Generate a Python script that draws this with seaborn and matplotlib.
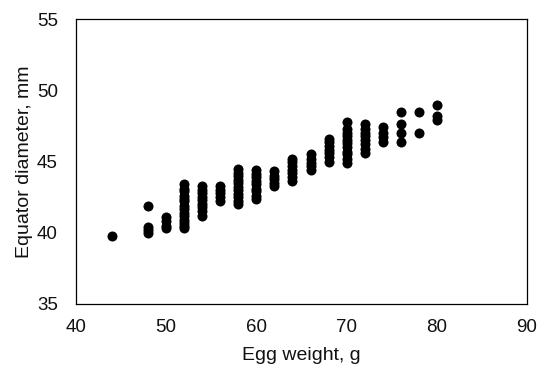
import matplotlib
matplotlib.use("Agg")
import matplotlib.pyplot as plt
import seaborn as sns
import pandas as pd

# Equator diameter (mm) measured for eggs grouped by weight (g)
egg_weight = [44, 48, 50, 52, 54, 56, 58, 60, 62, 64, 66, 68, 70, 72, 74, 76, 78, 80]
diameter = [
    [39.8],
    [41.9, 40.4, 40.2, 40.0],
    [41.1, 40.8, 40.5, 40.3],
    [43.4, 43.1, 42.9, 42.6, 42.4, 42.2, 41.9, 41.7, 41.4, 41.2, 40.9, 40.7, 40.5, 40.3],
    [43.3, 43.0, 42.8, 42.5, 42.3, 42.0, 41.8, 41.5, 41.2],
    [43.3, 43.0, 42.8, 42.5, 42.2],
    [44.5, 44.2, 44.0, 43.7, 43.5, 43.2, 43.0, 42.7, 42.5, 42.2, 42.0],
    [44.4, 44.1, 43.9, 43.6, 43.4, 43.1, 42.9, 42.6, 42.4],
    [44.3, 44.0, 43.8, 43.5, 43.3],
    [45.2, 45.0, 44.7, 44.4, 44.2, 43.9, 43.6],
    [45.5, 45.2, 44.9, 44.7, 44.4],
    [46.6, 46.4, 46.1, 45.8, 45.6, 45.3, 45.0],
    [47.8, 47.3, 47.0, 46.8, 46.5, 46.3, 46.0, 45.7, 45.5, 45.2, 44.9],
    [47.6, 47.3, 47.0, 46.8, 46.5, 46.2, 45.9, 45.6],
    [47.4, 47.0, 46.7, 46.4],
    [48.5, 47.6, 47.0, 46.4],
    [48.5, 47.0],
    [49.0, 48.2, 47.9],
]
x_ticks = [40, 50, 60, 70, 80, 90]
y_ticks = [35, 40, 45, 50, 55]

rows = [(w, d) for w, ds in zip(egg_weight, diameter) for d in ds]
df = pd.DataFrame(rows, columns=["weight", "diameter"])

sns.set_style("white")
plt.rcParams["font.family"] = ["Liberation Sans", "DejaVu Sans"]

fig = plt.figure(figsize=(5.44, 3.72), dpi=100)
ax = fig.add_axes([0.1397, 0.1828, 0.8291, 0.7661])

sns.scatterplot(data=df, x="weight", y="diameter", ax=ax, color="black",
                s=52, edgecolor="black", linewidth=0, legend=False)

ax.set_xlim(40, 90)
ax.set_ylim(35, 55)
ax.set_xticks(x_ticks)
ax.set_yticks(y_ticks)
ax.tick_params(length=0, labelsize=13.5, colors="#111111")
ax.tick_params(axis="y", pad=13)
ax.tick_params(axis="x", pad=11)
ax.set_xlabel("Egg weight, g", fontsize=14, color="#111111", labelpad=8)
ax.set_ylabel("Equator diameter, mm", fontsize=14, color="#111111", labelpad=3)
for sp in ax.spines.values():
    sp.set_visible(True)
    sp.set_color("black")
    sp.set_linewidth(0.9)

fig.savefig("out.png", dpi=100)
